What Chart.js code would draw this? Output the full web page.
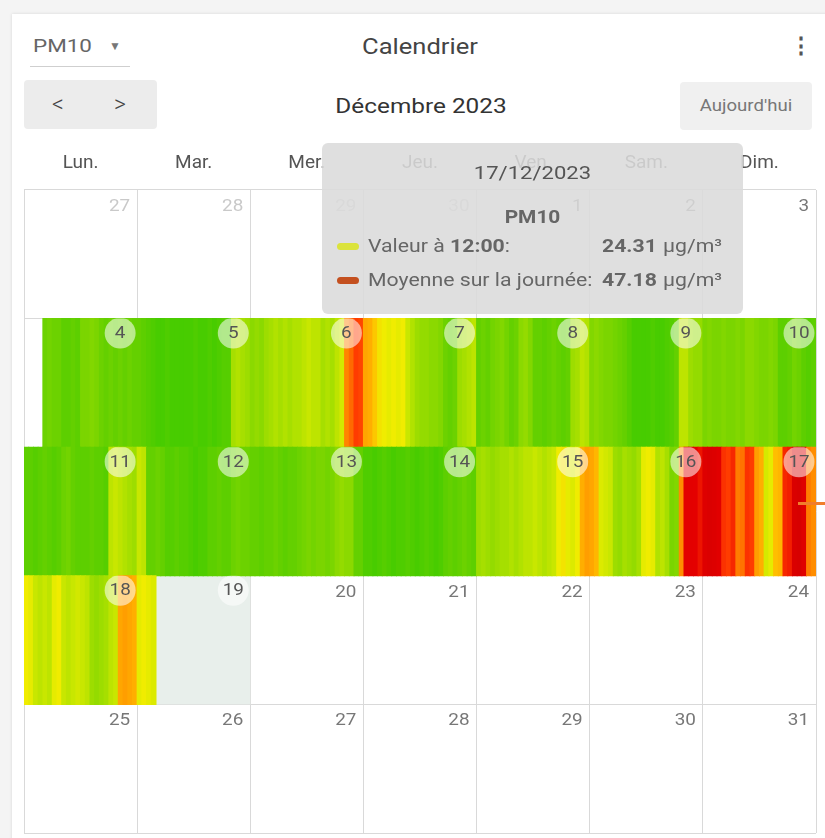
<!DOCTYPE html>
<html>
<head>
<meta charset="utf-8">
<script src="https://cdn.jsdelivr.net/npm/chart.js@4.4.1/dist/chart.umd.min.js"></script>
<style>
  html,body{margin:0;padding:0;}
  body{width:825px;height:838px;background:#f4f4f4;font-family:Roboto,"Noto Sans",sans-serif;position:relative;overflow:hidden;}
  #card{position:absolute;left:12px;top:14px;width:830px;height:840px;background:#fff;box-shadow:0 0 3px rgba(0,0,0,0.12);}
  .abs{position:absolute;white-space:nowrap;}
  .sx{transform:scaleX(1.18);transform-origin:left center;}
  .sxc{transform:scaleX(1.16);transform-origin:center center;}
  #chartWrap{position:absolute;left:0;top:140px;width:825px;height:698px;}
  #tip{position:absolute;left:322px;top:143px;width:421px;height:171px;background:rgba(219,219,219,0.88);border-radius:6px;color:#666;}
  .sw{position:absolute;width:22px;height:7px;border-radius:4px;}
</style>
</head>
<body>
<div id="card"></div>

<div class="abs sx" style="left:33px;top:35px;font-size:19px;line-height:22px;color:#666;">PM10</div>
<div class="abs" style="left:109px;top:37px;font-size:12px;line-height:18px;color:#777;">&#9660;</div>
<div class="abs" style="left:30px;top:66px;width:100px;height:1px;background:#cfcfcf;"></div>
<div class="abs sxc" style="left:320px;top:34px;width:200px;text-align:center;font-size:22px;line-height:26px;color:#444;">Calendrier</div>
<div class="abs" style="left:790px;top:33px;width:14px;text-align:center;font-size:22px;line-height:26px;color:#555;font-weight:bold;">&#8942;</div>

<div class="abs" style="left:24px;top:80px;width:133px;height:49px;background:#ececec;border-radius:4px;"></div>
<div class="abs" style="left:48px;top:91px;width:20px;text-align:center;font-size:23px;line-height:28px;color:#444;font-weight:300;">&lt;</div>
<div class="abs" style="left:110px;top:91px;width:20px;text-align:center;font-size:23px;line-height:28px;color:#444;font-weight:300;">&gt;</div>
<div class="abs sxc" style="left:300px;top:93px;width:242px;text-align:center;font-size:21px;line-height:26px;color:#333;">Décembre 2023</div>
<div class="abs" style="left:680px;top:82px;width:132px;height:48px;background:#f0f0f0;border-radius:4px;"></div>
<div class="abs sxc" style="left:680px;top:96px;width:132px;text-align:center;font-size:16px;line-height:20px;color:#777;">Aujourd'hui</div>

<div id="chartWrap"><canvas id="cal" width="825" height="698"></canvas></div>

<div id="tip">
  <div class="abs sxc" style="left:0;top:18px;width:421px;text-align:center;font-size:19px;line-height:24px;color:#555;">17/12/2023</div>
  <div class="abs sxc" style="left:0;top:63px;width:421px;text-align:center;font-size:18px;line-height:22px;font-weight:bold;color:#666;">PM10</div>
  <div class="sw" style="left:15px;top:100px;background:#dbe33c;"></div>
  <div class="abs sx" style="left:46px;top:92px;font-size:18px;line-height:22px;">Valeur à <b>12:00</b>:</div>
  <div class="abs sx" style="left:280px;top:92px;font-size:18px;line-height:22px;font-weight:bold;">24.31</div>
  <div class="abs sx" style="left:341px;top:92px;font-size:18px;line-height:22px;">µg/m³</div>
  <div class="sw" style="left:15px;top:134px;background:#c4501f;"></div>
  <div class="abs sx" style="left:46px;top:126px;font-size:18px;line-height:22px;">Moyenne sur la journée:</div>
  <div class="abs sx" style="left:280px;top:126px;font-size:18px;line-height:22px;font-weight:bold;">47.18</div>
  <div class="abs sx" style="left:341px;top:126px;font-size:18px;line-height:22px;">µg/m³</div>
</div>
<div class="abs" style="left:798px;top:502px;width:27px;height:3px;background:#f07e2c;"></div>

<script>
// ---- Data ----
const weekdayLabels = ['Lun.', 'Mar.', 'Mer.', 'Jeu.', 'Ven.', 'Sam.', 'Dim.'];
const weekRows = ['27 nov.', '4 déc.', '11 déc.', '18 déc.', '25 déc.'];
const novDays = [27, 28, 29, 30];          // leading days of November in the grid
const decDayCount = 31;
const todayDay = 19;                       // highlighted "today" cell (Dec 19)

// PM10 hourly values (µg/m³), per day; first value at hour `start`
const pm10_dec04 = [13,14,13,13, 11,11,12,11, 15,15,16,15, 13,12,13,12,13,12,13,12];          // from 04:00
const pm10_dec05 = [12,11,10, 9,8,8,9,8,8,7,8,8,9,8,8,9,8,9,10,10, 20,21,20,19];
const pm10_dec06 = [17,18,17,19, 20,21,20,21,20,21,21, 22,23,22,22, 20,21,20,22, 24, 39,42, 47,46];
const pm10_dec07 = [35,34, 31, 28,27, 26,27,26,27, 23,21, 19,18,18, 17,17,16, 13,12,13, 19,20,21,22];
const pm10_dec08 = [12,13,12,14, 15,16,14, 12,13, 17,18,16, 12,12,11,12,13,12,11,12, 19,20, 22,21];
const pm10_dec09 = [16,17,16,15,15, 14,13,12,10, 8,8,7,8,9,8,8,9,10, 12, 22,22, 19,18,18];
const pm10_dec10 = [15,16,15,15,16,15,15,16,15, 17,17,16, 15,15,16,15, 11,11,12, 14,13, 11,10,11];
const pm10_dec11 = [11,11,10,11,12,11,10,11,13, 14,12,11, 11,11,12,11,11,10, 22,23,22,21, 20,19];
const pm10_dec12 = [23,22, 12,12,13,12, 10,10,11,10,10, 9,8,9,9, 11,11,12,11,11, 13,14,13,13];
const pm10_dec13 = [12,12,11,12,12,13,12,11,12,12,13, 14,15,14,15,15,14,15, 17,18,17,17, 12,12];
const pm10_dec14 = [9,9,8,9,10,9,8,9,9,10,9,8, 9,10,9,8,9, 11,12,11,12,13,12,11];
const pm10_dec15 = [19,20,19,18,19,20,20,21,20,21, 22,22,23,22,21,22,23, 27,28,26, 25,27, 34,36];
const pm10_dec16 = [35,33, 25,24,23, 19,18,20,19,18,20, 26,27,26, 21,22,20, 15,16, 38, 54,55,53,51];
const pm10_dec17 = [62,66,64,58, 48,47,49, 40,41, 48,47, 36,34, 24.31,26, 32,33, 49,50, 68,72,60, 40,38];
const pm10_dec18 = [27,26, 23,22,23,22, 26,27, 23,22,23,24,23,22, 19,18,19,20, 22,23, 35,36,35,34];
const pm10_dec19 = [26,27,26,25];                                                               // until 04:00

const series = [
  {day: 4,  start: 4, values: pm10_dec04},
  {day: 5,  start: 0, values: pm10_dec05},
  {day: 6,  start: 0, values: pm10_dec06},
  {day: 7,  start: 0, values: pm10_dec07},
  {day: 8,  start: 0, values: pm10_dec08},
  {day: 9,  start: 0, values: pm10_dec09},
  {day: 10, start: 0, values: pm10_dec10},
  {day: 11, start: 0, values: pm10_dec11},
  {day: 12, start: 0, values: pm10_dec12},
  {day: 13, start: 0, values: pm10_dec13},
  {day: 14, start: 0, values: pm10_dec14},
  {day: 15, start: 0, values: pm10_dec15},
  {day: 16, start: 0, values: pm10_dec16},
  {day: 17, start: 0, values: pm10_dec17},
  {day: 18, start: 0, values: pm10_dec18},
  {day: 19, start: 0, values: pm10_dec19}
];

// ---- Colour scale (green -> yellow -> red) ----
const colorStops = [
  [0,[60,200,0]],[8,[72,204,0]],[12,[100,208,0]],[16,[130,215,0]],[20,[166,223,0]],
  [23,[200,231,0]],[27,[240,236,0]],[32,[255,190,0]],[37,[255,150,0]],[42,[255,106,0]],
  [47,[255,60,0]],[53,[228,0,0]],[80,[210,0,0]]
];
function colorFor(v){
  if (v <= colorStops[0][0]) return 'rgb(' + colorStops[0][1].join(',') + ')';
  for (let i = 1; i < colorStops.length; i++){
    const [v1, c1] = colorStops[i];
    if (v <= v1){
      const [v0, c0] = colorStops[i-1];
      const t = (v - v0) / (v1 - v0);
      const c = c0.map((a, k) => Math.round(a + (c1[k] - a) * t));
      return 'rgb(' + c.join(',') + ')';
    }
  }
  return 'rgb(' + colorStops[colorStops.length-1][1].join(',') + ')';
}

// ---- Build bar data (one floating bar per hour) ----
const gridIndexOfDec = d => novDays.length + d - 1;
const hourly = [];
series.forEach(s => {
  const idx = gridIndexOfDec(s.day);
  const row = Math.floor(idx / 7), wd = idx % 7;
  s.values.forEach((v, i) => {
    const h = s.start + i;
    hourly.push({x: [wd + h / 24, wd + (h + 1) / 24], y: weekRows[row], v: v});
  });
});
const daysWithData = series.map(s => s.day);

// ---- Plugin: today cell + day numbers ----
const TEXT_STRETCH = 1.18;
const calendarPlugin = {
  id: 'calendarCells',
  beforeDatasetsDraw(chart){
    const {ctx, scales:{x, y}} = chart;
    const idx = gridIndexOfDec(todayDay);
    const row = Math.floor(idx / 7), wd = idx % 7;
    const step = y.getPixelForValue(1) - y.getPixelForValue(0);
    const yc = y.getPixelForValue(row);
    ctx.save();
    ctx.fillStyle = '#e8efeb';
    ctx.fillRect(x.getPixelForValue(wd), yc - step/2, x.getPixelForValue(wd + 1) - x.getPixelForValue(wd), step);
    ctx.restore();
  },
  afterDraw(chart){
    const {ctx, scales:{x, y}} = chart;
    const step = y.getPixelForValue(1) - y.getPixelForValue(0);
    const total = novDays.length + decDayCount;
    for (let idx = 0; idx < total; idx++){
      const row = Math.floor(idx / 7), wd = idx % 7;
      const isNov = idx < novDays.length;
      const num = isNov ? novDays[idx] : idx - novDays.length + 1;
      const left = x.getPixelForValue(wd);
      const right = x.getPixelForValue(wd + 1);
      const top = y.getPixelForValue(row) - step/2;
      ctx.save();
      ctx.textBaseline = 'middle';
      ctx.font = '16px Roboto, sans-serif';
      if (!isNov && daysWithData.includes(num)){
        const cx = right - 17, cy = top + 14.5;
        ctx.save();
        ctx.beginPath();
        ctx.rect(left, top, right - left, step);
        ctx.clip();
        ctx.beginPath();
        ctx.arc(cx, cy, 15.5, 0, Math.PI * 2);
        ctx.fillStyle = 'rgba(255,255,255,0.55)';
        ctx.fill();
        ctx.restore();
        ctx.translate(cx, cy + 1);
        ctx.scale(TEXT_STRETCH, 1);
        ctx.fillStyle = '#555';
        ctx.textAlign = 'center';
        ctx.fillText(String(num), 0, 0);
      } else {
        ctx.translate(right - 7, top + 17);
        ctx.scale(TEXT_STRETCH, 1);
        ctx.fillStyle = isNov ? '#c9c9c9' : '#777';
        ctx.textAlign = 'right';
        ctx.fillText(String(num), 0, 0);
      }
      ctx.restore();
    }
  }
};

new Chart(document.getElementById('cal'), {
  type: 'bar',
  data: {
    datasets: [{
      label: 'PM10',
      data: hourly,
      backgroundColor: ctx => colorFor(ctx.raw ? ctx.raw.v : 0),
      borderWidth: 0,
      borderSkipped: false,
      barPercentage: 1,
      categoryPercentage: 1,
      inflateAmount: 0.5,
      grouped: false
    }]
  },
  options: {
    indexAxis: 'y',
    responsive: false,
    animation: false,
    events: [],
    layout: {padding: {left: 24, right: 9, top: 0, bottom: 5}},
    plugins: {legend: {display: false}, tooltip: {enabled: false}},
    scales: {
      x: {
        type: 'linear', position: 'bottom', min: 0, max: 7, z: 1,
        ticks: {display: false, stepSize: 1},
        grid: {color: '#d9d9d9', drawTicks: false},
        border: {display: false},
        afterFit(s){ s.height = 0; }
      },
      xDays: {
        axis: 'x', type: 'category', position: 'top', labels: weekdayLabels, offset: true,
        grid: {display: false, drawTicks: false},
        border: {display: false},
        ticks: {color: '#555', font: {family: 'Roboto', size: 19}, padding: 15},
        afterFit(s){ s.height = 50; }
      },
      y: {
        type: 'category', labels: weekRows, offset: true, z: 1,
        ticks: {display: false},
        grid: {color: '#d9d9d9', drawTicks: false, offset: true},
        border: {display: false},
        afterFit(s){ s.width = 0; }
      }
    }
  },
  plugins: [calendarPlugin]
});
</script>
</body>
</html>
